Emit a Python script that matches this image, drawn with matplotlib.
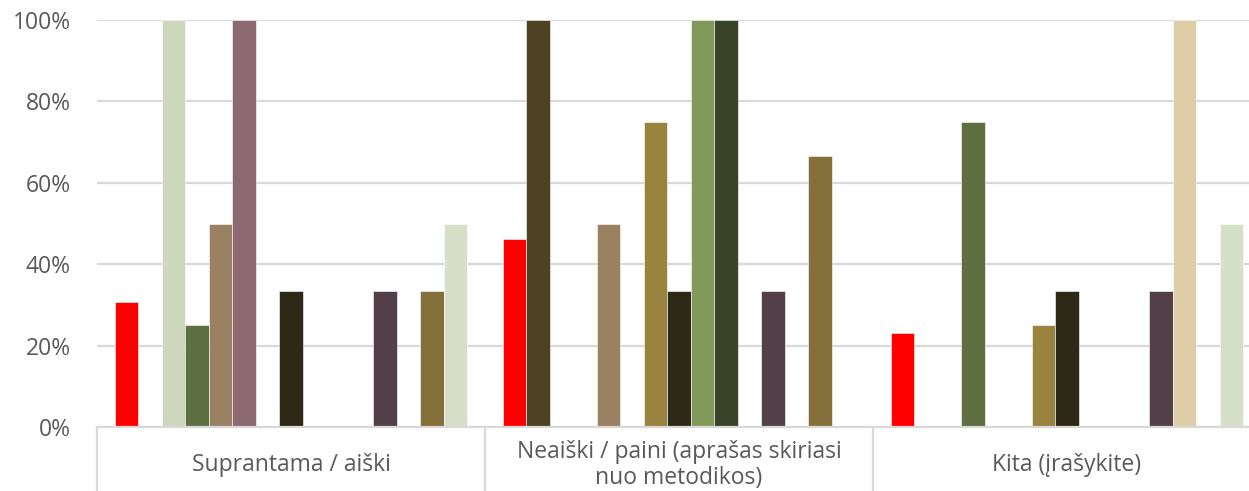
import matplotlib
matplotlib.use("Agg")
import matplotlib.pyplot as plt
import numpy as np
from matplotlib.ticker import PercentFormatter

categories = ["Suprantama / aiški",
              "Neaiški / paini (aprašas skiriasi\nnuo metodikos)",
              "Kita (įrašykite)"]

# one list per series: share in each category (%)
s01 = [30.8, 46.2, 23.1]
s02 = [0, 100, 0]
s03 = [100, 0, 0]
s04 = [25, 0, 75]
s05 = [50, 50, 0]
s06 = [100, 0, 0]
s07 = [0, 75, 25]
s08 = [33.3, 33.3, 33.3]
s09 = [0, 100, 0]
s10 = [0, 100, 0]
s11 = [0, 0, 0]
s12 = [33.3, 33.3, 33.3]
s13 = [0, 0, 100]
s14 = [33.3, 66.7, 0]
s15 = [50, 0, 50]
series = [s01, s02, s03, s04, s05, s06, s07, s08, s09, s10, s11, s12, s13, s14, s15]

colors = ["#FF0000", "#4D4222", "#CCD7BB", "#5E6F42", "#9A8162",
          "#8C6870", "#9A823F", "#2E2816", "#819A5C", "#3A4429",
          "#6B5A3A", "#533F47", "#DDCEA7", "#856F3A", "#D7DFC8"]

plt.rcParams["font.family"] = ["Open Sans", "DejaVu Sans"]
W, H = 1249, 491
fig = plt.figure(figsize=(W / 100, H / 100), dpi=100)
left, right, bottom, top = 97, 1261, 427, 20
ax = fig.add_axes([left / W, (H - bottom) / H, (right - left) / W, (bottom - top) / H])

n = len(series)
w = 1 / (n + 1.5)
x = np.arange(len(categories))
for i, (vals, c) in enumerate(zip(series, colors)):
    ax.bar(x + (i - (n - 1) / 2) * w, vals, width=w, color=c,
           edgecolor="white", linewidth=0.4, zorder=3)

ax.set_xlim(-0.5, len(categories) - 0.5)
ax.set_ylim(0, 100)
ax.set_yticks(np.arange(0, 101, 20))
ax.yaxis.set_major_formatter(PercentFormatter(decimals=0))
ax.tick_params(axis="y", length=0, pad=19, labelsize=16.5, labelcolor="#595959")
ax.set_xticks([])
ax.grid(axis="y", color="#D9D9D9", linewidth=1.6, zorder=0)
for s in ["top", "right", "left"]:
    ax.spines[s].set_visible(False)
ax.spines["bottom"].set_color("#D9D9D9")
ax.spines["bottom"].set_linewidth(1.6)
ax.spines["bottom"].set_zorder(4)

# category separators and labels below the axis
depth = (H - bottom) / (bottom - top)
trans = ax.get_xaxis_transform()
for b in np.arange(len(categories) + 1) - 0.5:
    ax.plot([b, b], [0, -depth], transform=trans, color="#D9D9D9",
            linewidth=1.6, clip_on=False)
for xi, lab in zip(x, categories):
    ax.text(xi, -38 / (bottom - top), lab, transform=trans, ha="center", va="center",
            fontsize=16.5, color="#595959", linespacing=1.15)

fig.savefig("out.png", dpi=100)
